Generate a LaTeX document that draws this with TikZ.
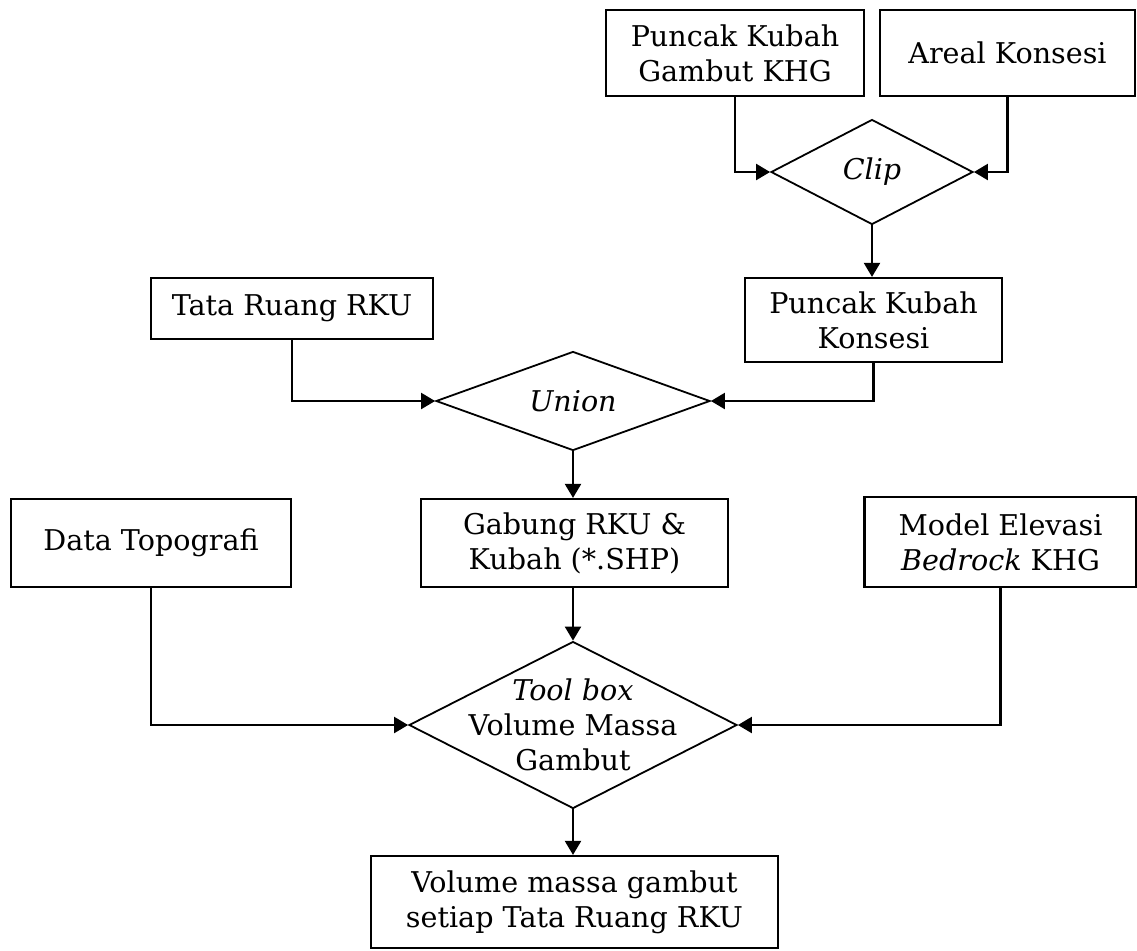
\documentclass[tikz,border=0pt]{standalone}
\usepackage{fontspec}
\setmainfont{DejaVu Serif}
\usetikzlibrary{shapes.geometric,arrows.meta}
\tikzset{
  box/.style={draw, line width=1.1pt, rectangle, inner sep=0pt, align=center,
    font=\fontsize{14.3}{17.5}\selectfont},
  dia/.style={draw, line width=0.9pt, diamond, inner sep=0pt,
    font=\fontsize{14.3}{17.5}\selectfont},
  dlabel/.style={align=center, inner sep=0pt, font=\fontsize{14.3}{17.5}\selectfont},
  conn/.style={line width=1.1pt, -{Triangle[length=7pt,width=8pt]}}
}
\begin{document}
\begin{tikzpicture}[x=0.5pt,y=-0.5pt]
\useasboundingbox (0,0) rectangle (1137,950);
% boxes
\node[box, minimum width=129pt, minimum height=43pt] (pkg) at (735,53) {Puncak Kubah\\Gambut KHG};
\node[box, minimum width=127.5pt, minimum height=43pt] (areal) at (1007.5,53) {Areal Konsesi};
\node[dia, minimum width=101pt, minimum height=52.5pt] (clip) at (872,172) {};
\node[dlabel] at (clip) {\itshape Clip};
\node[box, minimum width=128.5pt, minimum height=42pt] (pkk) at (873.5,320) {Puncak Kubah\\Konsesi};
\node[box, minimum width=141pt, minimum height=30.5pt] (tata) at (292,308.5) {Tata Ruang RKU};
\node[dia, minimum width=137pt, minimum height=49.5pt] (union) at (573,401) {};
\node[dlabel] at (union) {\itshape Union};
\node[box, minimum width=140pt, minimum height=44pt] (data) at (151,543) {Data Topografi};
\node[box, minimum width=153.5pt, minimum height=44pt] (gabung) at (574.5,543) {Gabung RKU \&\\Kubah (*.SHP)};
\node[box, minimum width=136pt, minimum height=45pt] (model) at (1000.5,542) {Model Elevasi\\\textit{Bedrock} KHG};
\node[dia, minimum width=164pt, minimum height=83.5pt] (tool) at (573,725) {};
\node[dlabel] at (tool) {\textit{Tool box}\\Volume Massa\\Gambut};
\node[box, minimum width=203.5pt, minimum height=46pt] (final) at (574.5,902) {Volume massa gambut\\setiap Tata Ruang RKU};
% connectors
\draw[conn] (pkg.south) |- (clip.west);
\draw[conn] (areal.south) |- (clip.east);
\draw[conn] (clip.south) -- (clip.south |- pkk.north);
\draw[conn] (tata.south) |- (union.west);
\draw[conn] (pkk.south) |- (union.east);
\draw[conn] (union.south) -- (union.south |- gabung.north);
\draw[conn] (data.south) |- (tool.west);
\draw[conn] (model.south) |- (tool.east);
\draw[conn] (gabung.south -| tool.north) -- (tool.north);
\draw[conn] (tool.south) -- (tool.south |- final.north);
\end{tikzpicture}
\end{document}
